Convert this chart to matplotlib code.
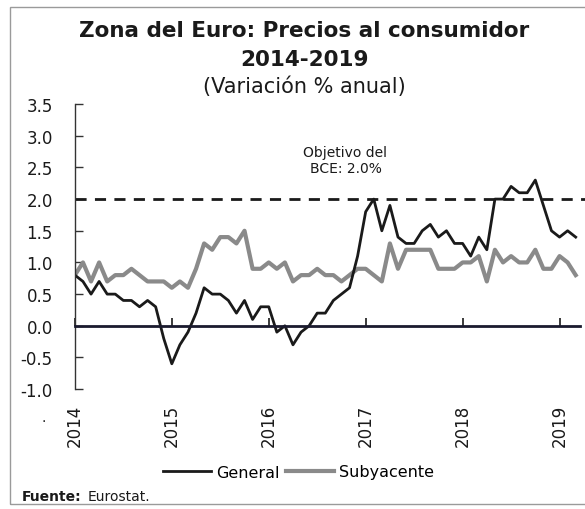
import matplotlib
matplotlib.use("Agg")
import matplotlib.pyplot as plt
from matplotlib.patches import Rectangle

# ---------- data: monthly, Jan 2014 .. Mar 2019 ----------
general = [0.8, 0.7, 0.5, 0.7, 0.5, 0.5, 0.4, 0.4, 0.3, 0.4, 0.3, -0.2,
           -0.6, -0.3, -0.1, 0.2, 0.6, 0.5, 0.5, 0.4, 0.2, 0.4, 0.1, 0.3,
           0.3, -0.1, 0.0, -0.3, -0.1, 0.0, 0.2, 0.2, 0.4, 0.5, 0.6, 1.1,
           1.8, 2.0, 1.5, 1.9, 1.4, 1.3, 1.3, 1.5, 1.6, 1.4, 1.5, 1.3,
           1.3, 1.1, 1.4, 1.2, 2.0, 2.0, 2.2, 2.1, 2.1, 2.3, 1.9, 1.5,
           1.4, 1.5, 1.4]
subyacente = [0.8, 1.0, 0.7, 1.0, 0.7, 0.8, 0.8, 0.9, 0.8, 0.7, 0.7, 0.7,
              0.6, 0.7, 0.6, 0.9, 1.3, 1.2, 1.4, 1.4, 1.3, 1.5, 0.9, 0.9,
              1.0, 0.9, 1.0, 0.7, 0.8, 0.8, 0.9, 0.8, 0.8, 0.7, 0.8, 0.9,
              0.9, 0.8, 0.7, 1.3, 0.9, 1.2, 1.2, 1.2, 1.2, 0.9, 0.9, 0.9,
              1.0, 1.0, 1.1, 0.7, 1.2, 1.0, 1.1, 1.0, 1.0, 1.2, 0.9, 0.9,
              1.1, 1.0, 0.8]
years = ["2014", "2015", "2016", "2017", "2018", "2019"]
objetivo = 2.0
yticks = [-1.0, -0.5, 0.0, 0.5, 1.0, 1.5, 2.0, 2.5, 3.0, 3.5]

months = list(range(len(general)))
year_pos = [12 * i for i in range(len(years))]

fig = plt.figure(figsize=(5.85, 5.10), dpi=100)
ax = fig.add_axes([0.128, 0.235, 0.863, 0.559])

# frame around the whole box
fig.patches.append(Rectangle((10 / 585, 5 / 510), 1.2, 497 / 510,
                             transform=fig.transFigure, fill=False,
                             edgecolor="#9a9a9a", lw=1.0))

ax.plot(months, subyacente, color="#8a8a8a", lw=3.0, label="Subyacente")
ax.plot(months, general, color="#1a1a1a", lw=2.0, label="General")
ax.axhline(objetivo, color="#1a1a1a", lw=2.0, ls=(0, (4, 3)), xmax=1.02,
           clip_on=False)

for s in ["top", "right"]:
    ax.spines[s].set_visible(False)
ax.spines["bottom"].set_position(("data", 0))
ax.spines["bottom"].set_color("#1a1a2e")
ax.spines["bottom"].set_linewidth(2.0)
ax.spines["left"].set_color("#333333")
ax.spines["left"].set_linewidth(1.0)

ax.set_xlim(0, 62.5)
ax.set_ylim(-1.0, 3.5)
ax.set_yticks(yticks)
ax.set_yticklabels([f"{v:.1f}" for v in yticks])
ax.set_xticks(year_pos)
ax.set_xticklabels(years)

ax.tick_params(axis="y", direction="in", length=6, width=1, pad=16,
               labelsize=12, colors="#333333", labelcolor="#1a1a1a")
ax.tick_params(axis="x", direction="in", length=6, width=1.2, pad=56,
               labelsize=12, labelrotation=90, colors="#1a1a1a")
for lbl in ax.get_xticklabels():
    lbl.set_va("top")

ax.text(33.5, 2.62, "Objetivo del\nBCE: 2.0%", ha="center", va="center",
        fontsize=10, color="#1a1a1a", linespacing=1.15)

fig.text(0.52, 1 - 31 / 510, "Zona del Euro: Precios al consumidor",
         ha="center", va="center", fontsize=15.5, fontweight="bold",
         color="#1a1a1a")
fig.text(0.52, 1 - 60 / 510, "2014-2019", ha="center", va="center",
         fontsize=15.5, fontweight="bold", color="#1a1a1a")
fig.text(0.52, 1 - 87 / 510, "(Variación % anual)", ha="center",
         va="center", fontsize=15, color="#1a1a1a")

fig.text(44 / 585, 1 - 418 / 510, ".", ha="center", va="center",
         fontsize=10, color="#1a1a1a")

handles, labels = ax.get_legend_handles_labels()
fig.legend(handles[::-1], labels[::-1], loc="center", ncol=2,
           bbox_to_anchor=(0.51, 1 - 473 / 510), frameon=False,
           fontsize=11.5, handlelength=3.0, handletextpad=0.3,
           columnspacing=0.4)

fuente = fig.text(22 / 585, 1 - 497 / 510, "Fuente:", ha="left",
                  va="center", fontsize=10, fontweight="bold",
                  color="#1a1a1a")
ax.annotate("Eurostat.", xy=(1, 0.5), xycoords=fuente, xytext=(4, 0),
            textcoords="offset points", ha="left", va="center",
            fontsize=10, color="#1a1a1a", annotation_clip=False)

fig.savefig("out.png", dpi=100, facecolor="white")
